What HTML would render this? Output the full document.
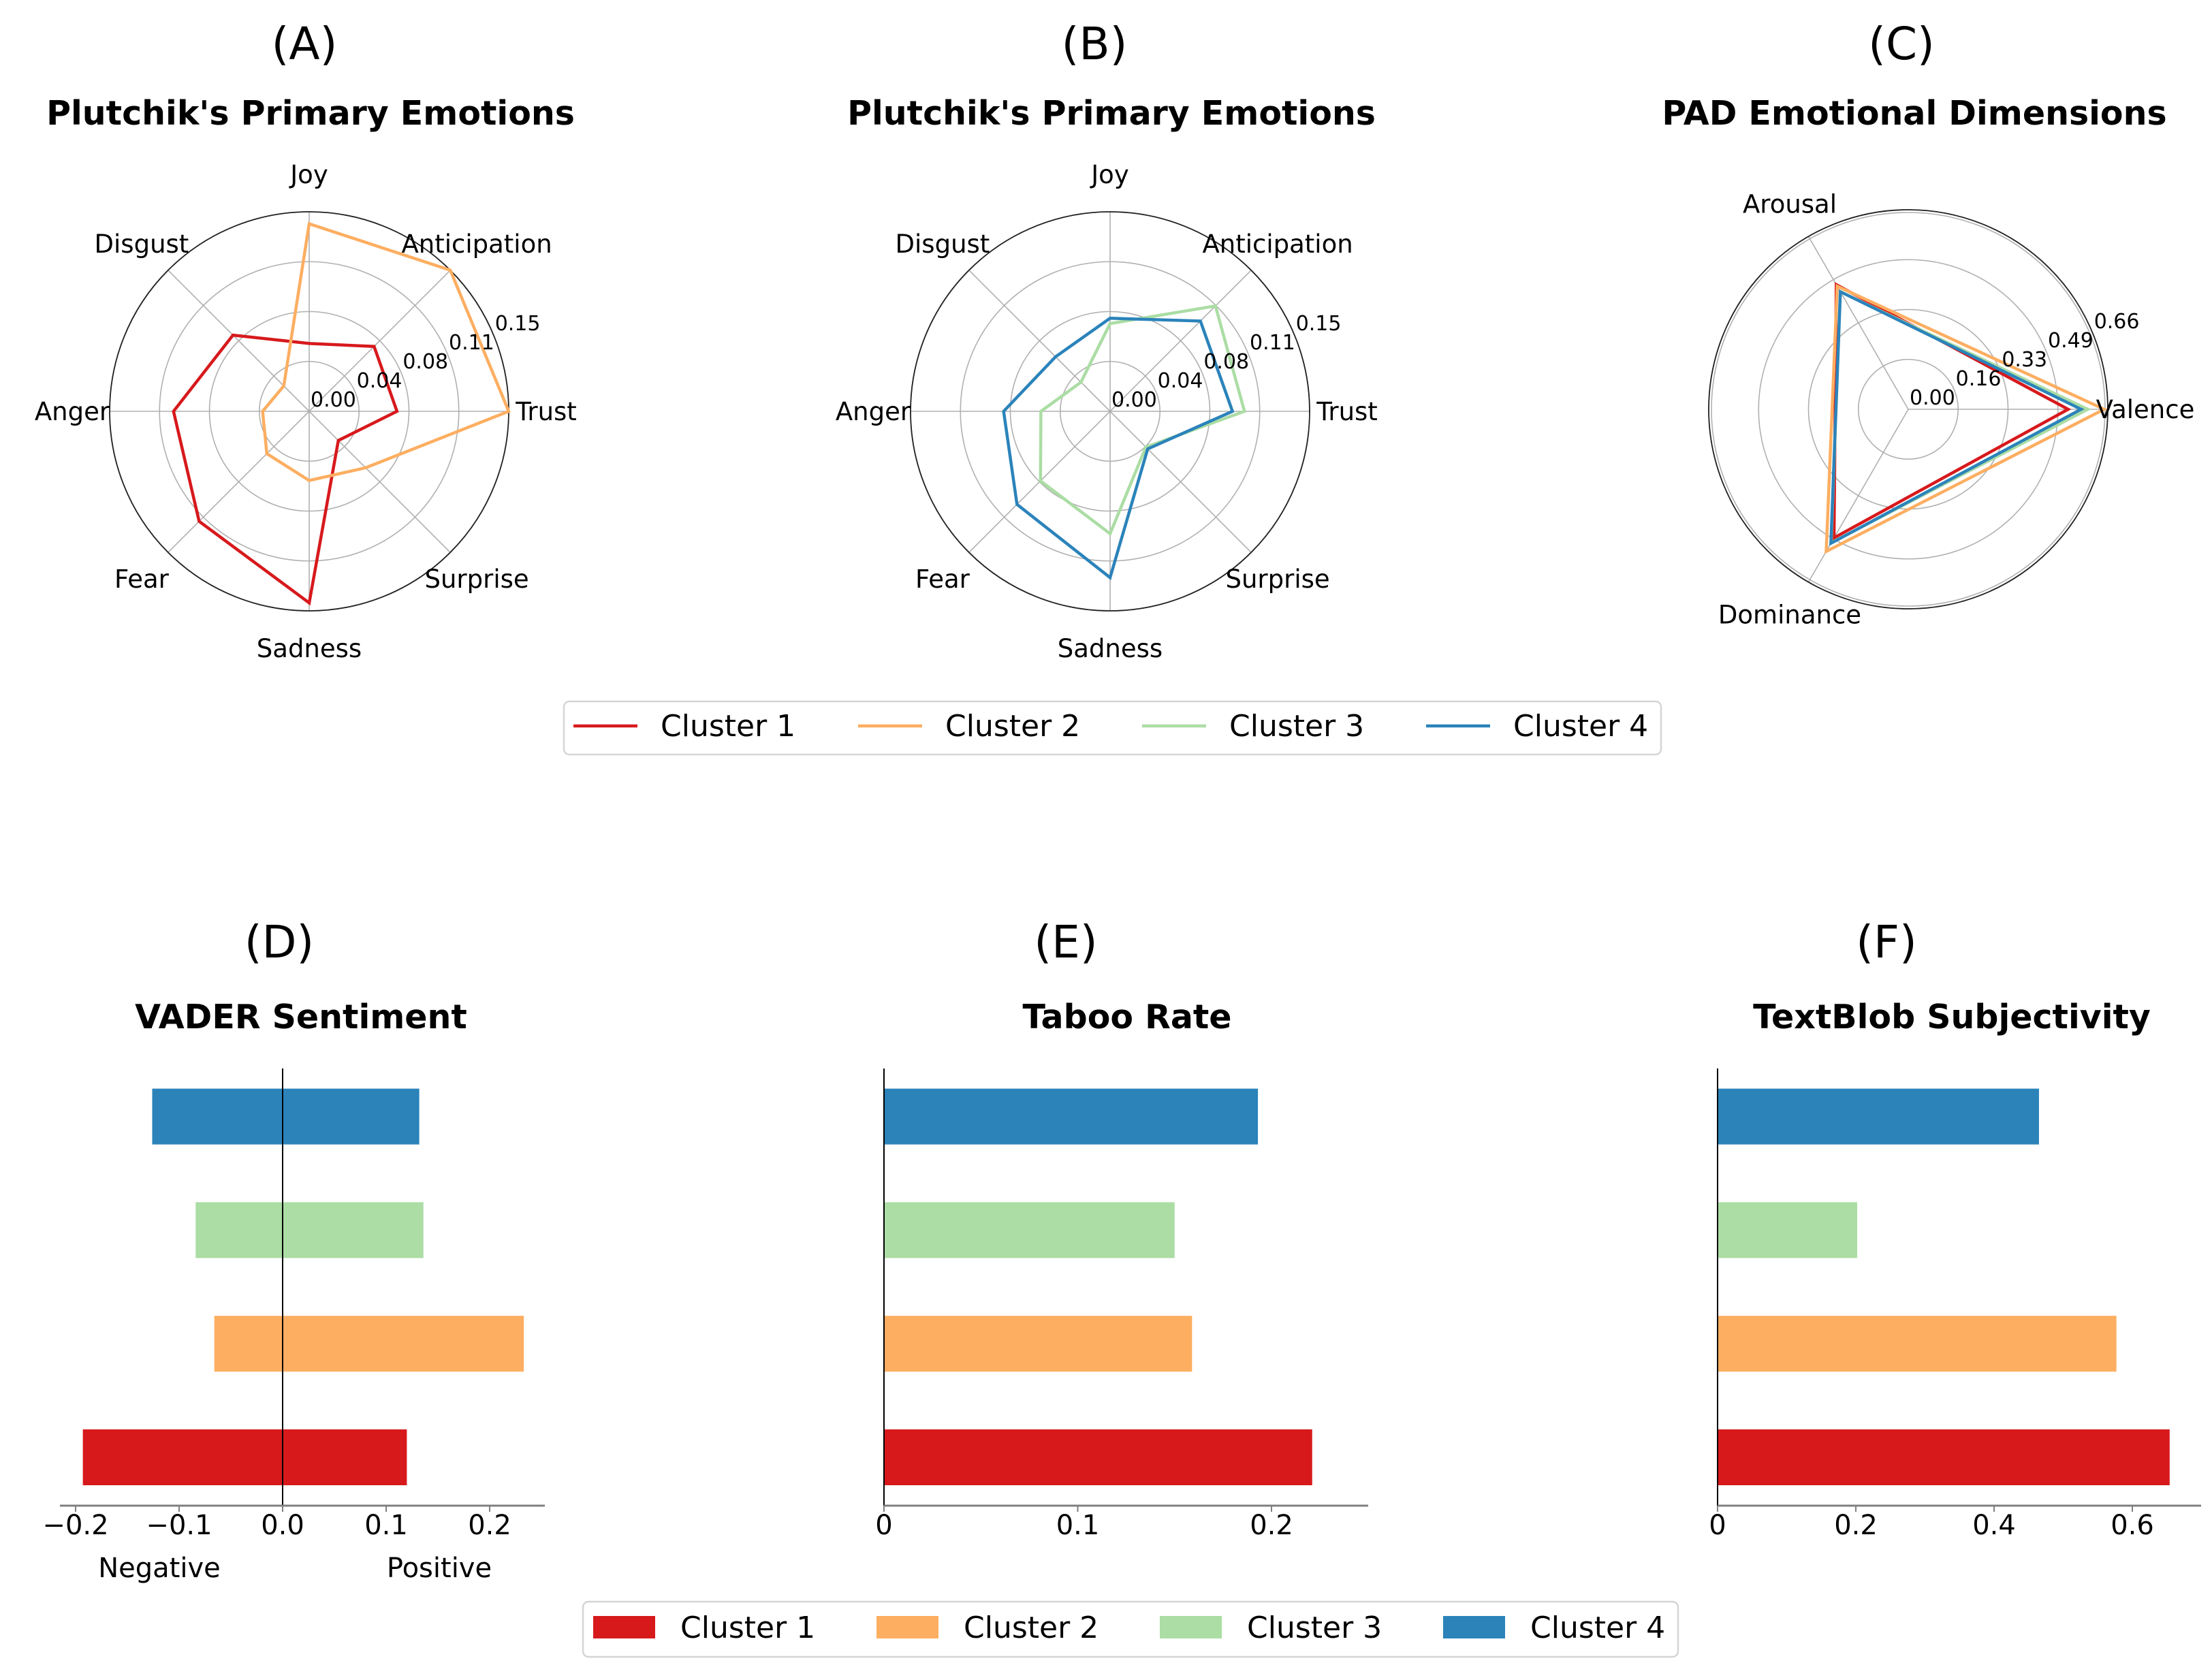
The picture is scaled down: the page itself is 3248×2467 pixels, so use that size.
<!DOCTYPE html>
<html><head><meta charset="utf-8"><style>
html,body{margin:0;padding:0;background:#fff}
svg{display:block;font-family:"DejaVu Sans","Liberation Sans",sans-serif}
</style></head><body>
<svg id="fig" width="3248" height="2467" viewBox="0 0 3248 2467" xmlns="http://www.w3.org/2000/svg">
<g id="static">
<text x="447" y="87" font-size="66" text-anchor="middle">(A)</text>
<text x="1607" y="87" font-size="66" text-anchor="middle">(B)</text>
<text x="2792" y="87" font-size="66" text-anchor="middle">(C)</text>
<text x="456" y="183" font-size="49" font-weight="bold" text-anchor="middle">Plutchik's Primary Emotions</text>
<text x="1632" y="183" font-size="49" font-weight="bold" text-anchor="middle">Plutchik's Primary Emotions</text>
<text x="2811" y="183" font-size="49" font-weight="bold" text-anchor="middle">PAD Emotional Dimensions</text>
<text x="410" y="1406" font-size="66" text-anchor="middle">(D)</text>
<text x="1565" y="1406" font-size="66" text-anchor="middle">(E)</text>
<text x="2770" y="1406" font-size="66" text-anchor="middle">(F)</text>
<text x="442" y="1510" font-size="49" font-weight="bold" text-anchor="middle">VADER Sentiment</text>
<text x="1655" y="1510" font-size="49" font-weight="bold" text-anchor="middle">Taboo Rate</text>
<text x="2866" y="1510" font-size="49" font-weight="bold" text-anchor="middle">TextBlob Subjectivity</text>
<text x="234" y="2316" font-size="40" text-anchor="middle">Negative</text>
<text x="645" y="2316" font-size="40" text-anchor="middle">Positive</text>
</g>
<g id="dyn"></g>
</svg>
<script>
const clusterNames = ["Cluster 1","Cluster 2","Cluster 3","Cluster 4"];
const colors = ["#d7191c","#fdae61","#abdda4","#2b83ba"];
const plutchikCats = ["Trust","Anticipation","Joy","Disgust","Anger","Fear","Sadness","Surprise"];
const plutchikC1 = [0.066,0.069,0.051,0.081,0.102,0.117,0.144,0.031];
const plutchikC2 = [0.150,0.150,0.141,0.027,0.035,0.045,0.052,0.060];
const plutchikC3 = [0.101,0.112,0.066,0.031,0.052,0.074,0.092,0.038];
const plutchikC4 = [0.092,0.096,0.070,0.058,0.080,0.099,0.125,0.040];
const plutchikTicks = ["0.00","0.04","0.08","0.11","0.15"];
const plutchikMax = 0.15;
const padCats = ["Valence","Arousal","Dominance"];
const padC1 = [0.529,0.476,0.491];
const padC2 = [0.648,0.470,0.543];
const padC3 = [0.594,0.449,0.510];
const padC4 = [0.572,0.449,0.512];
const padTicks = ["0.00","0.16","0.33","0.49","0.66"];
const padMax = 0.66;
const vaderNeg = [-0.193,-0.066,-0.084,-0.126];
const vaderPos = [0.120,0.233,0.136,0.132];
const vaderTicks = [-0.2,-0.1,0,0.1,0.2];
const tabooRate = [0.221,0.159,0.150,0.193];
const tabooTicks = [0,0.1,0.2];
const subjectivity = [0.654,0.577,0.202,0.465];
const subjTicks = [0,0.2,0.4,0.6];

const NS="http://www.w3.org/2000/svg";
const root=document.getElementById('dyn');
function mk(tag,attrs,parent){const e=document.createElementNS(NS,tag);for(const k in attrs)e.setAttribute(k,attrs[k]);(parent||root).appendChild(e);return e;}

const R=293;
function radar(cx,cy,cats,seriesList,seriesIdx,rmax,ticks,name){
  const g=mk('g',{});
  
  
  const n=cats.length;
  const ang=i=>i*2*Math.PI/n;
  const rs=v=>v/rmax*R;
  // grid circles
  for(let k=1;k<ticks.length;k++){
    const c=mk('circle',{cx:cx,cy:cy,r:R*k/(ticks.length-1),fill:'none',stroke:'#b0b0b0','stroke-width':1.6},g);
    
    
  }
  for(let i=0;i<n;i++){
    const l=mk('line',{x1:cx,y1:cy,x2:cx+R*Math.cos(ang(i)),y2:cy-R*Math.sin(ang(i)),stroke:'#b0b0b0','stroke-width':1.6},g);
    
    
  }
  const sp=mk('circle',{cx:cx,cy:cy,r:R,fill:'none',stroke:'#222','stroke-width':1.8},g);
  
  
  seriesList.forEach((vals,si)=>{
    const pts=vals.map((v,i)=>(cx+rs(v)*Math.cos(ang(i))).toFixed(1)+','+(cy-rs(v)*Math.sin(ang(i))).toFixed(1));
    const p=mk('polygon',{points:pts.join(' '),fill:'none',stroke:colors[seriesIdx[si]],'stroke-width':4.5,'stroke-linejoin':'miter'},g);
    
    
  });
  for(let i=0;i<n;i++){
    const t=mk('text',{x:cx+348*Math.cos(ang(i)),y:cy-348*Math.sin(ang(i))+13,'font-size':37,'text-anchor':'middle'},g);
    t.textContent=cats[i];
    
    
  }
  const a=22.5*Math.PI/180;
  ticks.forEach((lab,k)=>{
    const r=R*k/(ticks.length-1);
    const t=mk('text',{x:cx+r*Math.cos(a)+2,y:cy-r*Math.sin(a)-7,'font-size':30},g);
    t.textContent=lab;
    
    
  });
}
radar(454,604,plutchikCats,[plutchikC1,plutchikC2],[0,1],plutchikMax,plutchikTicks,'radar-a');
radar(1630,604,plutchikCats,[plutchikC3,plutchikC4],[2,3],plutchikMax,plutchikTicks,'radar-b');
mk('circle',{cx:2802,cy:601,r:289,fill:'none',stroke:'#b0b0b0','stroke-width':1.6});
radar(2802,601,padCats,[padC1,padC2,padC3,padC4],[0,1,2,3],padMax,padTicks,'radar-c');

// legend 1 (lines)
const lg1=mk('g',{});


mk('rect',{x:828,y:1030,width:1611,height:78,rx:8,fill:'#fff',stroke:'#d5d5d5','stroke-width':2.5},lg1);
const lx1=[842,1260,1677,2094];
clusterNames.forEach((nm,i)=>{
  const l=mk('line',{x1:lx1[i],y1:1066,x2:lx1[i]+94,y2:1066,stroke:colors[i],'stroke-width':4.5},lg1);
  
  
  const t=mk('text',{x:lx1[i]+128,y:1081,'font-size':44},lg1);
  t.textContent=nm;
  
  
});

// bar panels
const yc=i=>2140-i*166.8;
const BH=82, AX_TOP=1569, AX_BOT=2211;
function barPanel(x0,scale,xEnd,ticks,fmt,name){
  const g=mk('g',{});
  
  
  return g;
}
function axis(g,x0,scale,xStart,xEnd,ticks,fmt){
  const s=mk('line',{x1:xStart,y1:AX_BOT,x2:xEnd,y2:AX_BOT,stroke:'#808080','stroke-width':3},g);
  
  
  ticks.forEach(v=>{
    const x=x0+v*scale;
    const tk=mk('line',{x1:x,y1:AX_BOT,x2:x,y2:AX_BOT+9,stroke:'#808080','stroke-width':2},g);
    
    
    const t=mk('text',{x:x,y:AX_BOT+42,'font-size':40,'text-anchor':'middle'},g);
    t.textContent=fmt(v);
    
    
  });
}
// D
const gD=barPanel(0,0,0,0,0,'vader-panel');
const xD=v=>415+v*1520;
vaderNeg.forEach((v,i)=>{
  const r=mk('rect',{x:xD(v),y:yc(i)-BH/2,width:xD(0)-xD(v),height:BH,fill:colors[i]},gD);
  
  
});
vaderPos.forEach((v,i)=>{
  const r=mk('rect',{x:xD(0),y:yc(i)-BH/2,width:xD(v)-xD(0),height:BH,fill:colors[i]},gD);
  
  
});
const zl=mk('line',{x1:xD(0),y1:AX_TOP,x2:xD(0),y2:AX_BOT,stroke:'#000','stroke-width':2},gD);


axis(gD,415,1520,88,800,vaderTicks,v=>(v<0?'\u2212':'')+Math.abs(v).toFixed(1));
// E
const gE=barPanel(0,0,0,0,0,'taboo-panel');
const xE=v=>1298+v*2845;
tabooRate.forEach((v,i)=>{
  const r=mk('rect',{x:xE(0),y:yc(i)-BH/2,width:xE(v)-xE(0),height:BH,fill:colors[i]},gE);
  
  
});
const sE=mk('line',{x1:xE(0),y1:AX_TOP,x2:xE(0),y2:AX_BOT,stroke:'#000','stroke-width':2},gE);


axis(gE,1298,2845,1298,2009,tabooTicks,v=>v===0?'0':v.toFixed(1));
// F
const gF=barPanel(0,0,0,0,0,'subjectivity-panel');
const xF=v=>2522+v*1015;
subjectivity.forEach((v,i)=>{
  const r=mk('rect',{x:xF(0),y:yc(i)-BH/2,width:xF(v)-xF(0),height:BH,fill:colors[i]},gF);
  
  
});
const sF=mk('line',{x1:xF(0),y1:AX_TOP,x2:xF(0),y2:AX_BOT,stroke:'#000','stroke-width':2},gF);


axis(gF,2522,1015,2522,3232,subjTicks,v=>v===0?'0':v.toFixed(1));

// legend 2 (patches)
const lg2=mk('g',{});


mk('rect',{x:856,y:2352,width:1608,height:81,rx:8,fill:'#fff',stroke:'#d5d5d5','stroke-width':2.5},lg2);
const lx2=[871,1287,1703,2119];
clusterNames.forEach((nm,i)=>{
  const r=mk('rect',{x:lx2[i],y:2373,width:91,height:33,fill:colors[i]},lg2);
  
  
  const t=mk('text',{x:lx2[i]+128,y:2405,'font-size':44},lg2);
  t.textContent=nm;
  
  
});
</script>
</body></html>
